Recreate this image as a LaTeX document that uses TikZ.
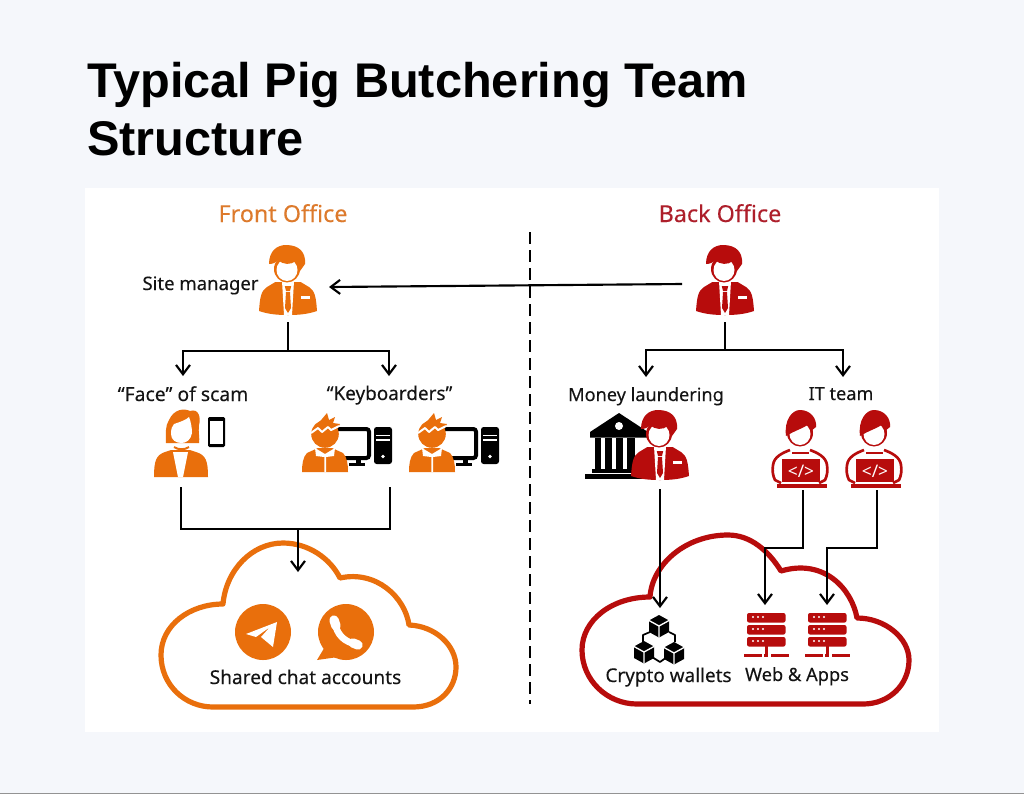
\documentclass[tikz,border=0pt]{standalone}
\usepackage{fontspec}
\setmainfont{Noto Sans}
\newfontfamily\titlefont{Liberation Sans}[BoldFont={Liberation Sans Bold}]
\usetikzlibrary{arrows.meta}
\definecolor{pagebg}{HTML}{F5F7FB}
\definecolor{org}{HTML}{E96F0C}
\definecolor{rd}{HTML}{B70C0C}
\definecolor{orgtxt}{HTML}{DD7A2C}
\definecolor{rdtxt}{HTML}{AE1F2B}
\definecolor{ink}{HTML}{141414}
\newcommand{\lblfont}[1]{\fontsize{#1pt}{18pt}\selectfont\addfontfeature{FakeBold=0.15}}
\tikzset{
  titletext/.style={anchor=base west,inner sep=0pt,font=\titlefont\fontsize{36.5pt}{40pt}\selectfont\bfseries,text=black},
  headtext/.style={anchor=base,inner sep=0pt,font=\lblfont{17.5}},
  labeltext/.style={anchor=base,inner sep=0pt,text=ink,font=\lblfont{#1}},
  labeltext/.default=13.6,
  conn/.style={draw=black,line width=1.6pt},
  arrowconn/.style={conn,-{Straight Barb[length=7pt,width=10.5pt,line width=1.6pt]}},
  cloudline/.style={line width=3.9pt,fill=none,line join=round},
}
% manager icon, origin near neck
\newcommand{\mgricon}[3]{\begin{scope}[shift={(#1,#2)}]
  \fill[#3] (-11,1) -- (-21,7) .. controls (-27,11) and (-28,17) .. (-29,31)
     .. controls (-20,34) and (-12,35) .. (0,35) .. controls (12,35) and (20,34) .. (29,31)
     .. controls (28,17) and (27,11) .. (21,7) -- (11,1) -- cycle;
  \fill[white] (-6,1) -- (6,1) -- (4,35) -- (-4,35) -- cycle;
  \fill[white] (-14,-2) rectangle (14,2);
  \fill[#3] (-3.2,6) -- (3.2,6) -- (2,11) -- (-2,11) -- cycle;
  \fill[#3] (-2,12) -- (2,12) -- (3,28) -- (0,33) -- (-3,28) -- cycle;
  \fill[white] (13,16) rectangle (22,18.8);
  \fill[#3] (-1,-11) ellipse [x radius=13,y radius=13.5];
  \fill[white] (-1,-10) ellipse [x radius=10.5,y radius=11];
  \fill[#3] (-19,-16) .. controls (-19,-29) and (-11,-35) .. (-2,-35)
     .. controls (11,-35) and (18,-28) .. (17,-16) -- (12,-9)
     .. controls (11,-13) and (10,-17) .. (8,-19) .. controls (3,-15) and (-5,-15) .. (-10,-20)
     .. controls (-12,-17) and (-16,-16) .. (-19,-16) -- cycle;
\end{scope}}
% woman
\newcommand{\womanicon}[3]{\begin{scope}[shift={(#1,#2)}]
  \fill[#3] (-6,19) -- (-15,22) .. controls (-24,25) and (-26,31) .. (-26,47) -- (28,47)
     .. controls (28,31) and (26,25) .. (16,22) -- (7,19) -- cycle;
  \fill[white] (-7,22) -- (8,22) -- (3,47) -- (-2,47) -- cycle;
  \fill[white] (-9,17) rectangle (11,20);
  \fill[#3] (-11,-10) .. controls (-6,-21) and (4,-22) .. (10,-19) .. controls (19,-22) and (21,-12) .. (19,-5)
     .. controls (18,2) and (20,8) .. (19,13) -- (-14,13) .. controls (-14,3) and (-15,-4) .. (-11,-10) -- cycle;
  \fill[white] (-9,4) .. controls (-9,-1) and (-8,-4) .. (-6,-6) .. controls (0,-8) and (6,-10) .. (9,-13)
     .. controls (11,-8) and (12,-2) .. (12,3) .. controls (11,10) and (6,13) .. (1.5,13) .. controls (-4,13) and (-9,10) .. (-9,4) -- cycle;
  \draw[#3,line width=1.5pt] (-6,17) .. controls (-2,20) and (5,20) .. (9,17);
\end{scope}}
% keyboarder
\newcommand{\kbicon}[3]{\begin{scope}[shift={(#1,#2)}]
  \draw[black,line width=3pt,rounded corners=2pt] (10,-5) -- (44,-5) -- (44,24) -- (14,24);
  \fill[black] (31,24) rectangle (36,30);
  \fill[black] (24,29) rectangle (40,32);
  \fill[black,rounded corners=2pt] (49,-7) rectangle (67,30);
  \fill[white] (51,0.5) rectangle (65,2);
  \fill[white] (51,5) rectangle (65,6.5);
  \fill[white] (58,22.5) circle (1.9);
  \fill[#3] (-7,14) -- (-18,19) .. controls (-22,23) and (-23,30) .. (-23,38) -- (23,38)
     .. controls (23,30) and (22,23) .. (18,19) -- (7,14) -- cycle;
  \fill[white] (-10,14) -- (0,20) -- (10,14) -- (9,22) -- (1,23) -- (1,38) -- (-0.6,38) -- (-0.6,23) -- (-9,22) -- cycle;
  \fill[#3] (0,0) circle (13.8);
  \fill[#3] (-10,-8) -- (-3,-15) -- (2,-21) -- (4,-14) -- (10,-17) -- (8,-11) -- (15,-10) -- (12,-5) -- cycle;
  \draw[white,line width=1.5pt,line join=round] (-14,-1) -- (-7,-6) -- (-3,-2) -- (3,-7) -- (6,-4) -- (14,-8);
\end{scope}}
% programmer
\newcommand{\progicon}[3]{\begin{scope}[shift={(#1,#2)}]
  \draw[#3,line width=2pt,line join=round] (-10,17) .. controls (-18,20) and (-26,24) .. (-27,32)
     .. controls (-28,38) and (-27,43) .. (-25,47) -- (-19,50);
  \draw[#3,line width=2pt,line join=round] (10,17) .. controls (18,20) and (26,24) .. (27,32)
     .. controls (28,38) and (27,43) .. (25,47) -- (19,50);
  \draw[#3,line width=1.8pt] (-8,20) -- (9,20);
  \fill[#3] (-18,26) rectangle (20,49);
  \fill[#3] (-23,51) rectangle (27,54.5);
  \node[inner sep=0pt,text=white,font=\fontsize{13pt}{13pt}\selectfont\bfseries] at (1,38) {</>};
  \fill[#3] (0,0) ellipse [x radius=13,y radius=13.5];
  \fill[white] (0,1) ellipse [x radius=10.5,y radius=11];
  \fill[#3] (-14,3) .. controls (-16,-13) and (-8,-23) .. (0,-23) .. controls (10,-23) and (17,-15) .. (16,-6)
     -- (11,-2) .. controls (10,-4) and (10,-6) .. (9,-9) .. controls (4,-5) and (-4,-3) .. (-14,3) -- cycle;
\end{scope}}
% bank
\newcommand{\bankicon}[2]{\begin{scope}[shift={(#1,#2)}]
  \fill[black] (0,0) -- (29,19) -- (29,24.5) -- (-29,24.5) -- (-29,19) -- cycle;
  \fill[white] (0,13) circle (4);
  \foreach \cx/\w in {-21/6.5,-10.5/7,0.5/7,12/8}
    \fill[black] (\cx-\w/2,25) rectangle (\cx+\w/2,56);
  \fill[black] (-27,56) rectangle (30,60);
  \fill[black] (-34,60.5) rectangle (30,66);
\end{scope}}
% server
\newcommand{\servericon}[3]{\begin{scope}[shift={(#1,#2)}]
  \foreach \yy in {0,12,24}{
    \fill[#3,rounded corners=1.5pt] (0,\yy) rectangle (38.5,\yy+9.5);
    \foreach \xx in {6,11,16} \fill[white] (\xx,\yy+4) circle (1.2);
  }
  \fill[#3] (18,33) rectangle (20.5,41);
  \fill[#3] (-3,41) rectangle (14.5,44);
  \fill[#3] (17.3,41) rectangle (21.2,44);
  \fill[#3] (24,41) rectangle (41.5,44);
\end{scope}}
% cube
\newcommand{\cubeicon}[2]{\begin{scope}[shift={(#1,#2)}]
  \fill[black] (0,-11) -- (10,-5.5) -- (10,6) -- (0,11.5) -- (-10,6) -- (-10,-5.5) -- cycle;
  \draw[white,line width=1pt] (-10,-5.5) -- (0,0) -- (10,-5.5) (0,0) -- (0,11.5);
\end{scope}}
\begin{document}
\begin{tikzpicture}[x=0.75pt,y=-0.75pt]
\useasboundingbox (0,0) rectangle (1024,794);
\fill[pagebg] (0,0) rectangle (1024,794);
\fill[gray!85] (0,793) rectangle (1024,794);
\fill[white] (85,188) rectangle (939,732);

\node[titletext] (title1) at (87,97) {Typical Pig Butchering Team};
\node[titletext] (title2) at (87,155) {Structure};

\node[headtext,text=orgtxt] (front) at (283,222) {Front Office};
\node[headtext,text=rdtxt] (back) at (720,222) {Back Office};
\node[labeltext=13.9] (site) at (200.5,290) {Site manager};
\node[labeltext=14.5] (face) at (183,401) {“Face” of scam};
\node[labeltext=14.2] (keys) at (389.5,400) {“Keyboarders”};
\node[labeltext=13.6] (money) at (646,401) {Money laundering};
\node[labeltext=13.6] (itteam) at (841,400) {IT team};

% clouds
\draw[org,cloudline] (213,707) -- (413,707) .. controls (440,707) and (456,688) .. (456,667)
  .. controls (456,645) and (435,626) .. (409,625) .. controls (405,597) and (376,570) .. (340,578)
  .. controls (330,558) and (308,543) .. (283,543) .. controls (252,543) and (226,570) .. (223,604)
  .. controls (190,604) and (161,625) .. (161,655) .. controls (161,685) and (185,707) .. (213,707) -- cycle;
\draw[rd,cloudline] (637,704) -- (863,704) .. controls (890,704) and (909,684) .. (909,660)
  .. controls (909,638) and (885,618) .. (857,618) .. controls (852,590) and (825,558) .. (781,571)
  .. controls (768,550) and (750,535) .. (728,535) .. controls (685,535) and (652,565) .. (650,597)
  .. controls (612,597) and (582,620) .. (582,650) .. controls (582,680) and (607,704) .. (637,704) -- cycle;

% icons
\mgricon{288}{280}{org}
\mgricon{725}{280}{rd}
\bankicon{619}{413}
\mgricon{660}{445}{rd}
\womanicon{180}{430}{org}
\fill[black,rounded corners=1pt] (208,417) rectangle (225,447);
\fill[white] (210,421) rectangle (223,444);
\kbicon{325}{434}{org}
\kbicon{432}{434}{org}
\progicon{800}{433}{rd}
\progicon{874}{433}{rd}

% chat icons
\fill[org] (263,632) circle (28);
\fill[white] (246,634) -- (277,622) -- (273,647) -- (261,637) -- (270,627) -- (256,637) -- cycle;
\fill[org] (346,632) circle (28);
\fill[org] (326,645) -- (338,657) -- (317,660) -- cycle;
\draw[white,line width=5pt,line cap=round] (335,622) .. controls (336,634) and (345,643) .. (357,644);
\draw[white,line width=7pt,line cap=round] (334,620) -- (336,626) (353,643) -- (358,645);

\node[labeltext=14.3] (shared) at (305.5,684) {Shared chat accounts};
\node[labeltext=14.2] (crypto) at (668.5,682) {Crypto wallets};
\node[labeltext=13.7] (web) at (797,681) {Web \& Apps};

% crypto
\draw[black,line width=1.3pt,line join=round] (650,632) -- (643,635) -- (643,642);
\draw[black,line width=1.3pt,line join=round] (669,632) -- (675,635) -- (675,642);
\draw[black,line width=1.3pt,line join=round] (652,657) -- (660,662) -- (667,657);
\cubeicon{659}{626}
\cubeicon{644}{652}
\cubeicon{674}{653}

% servers
\servericon{747}{613}{rd}
\servericon{808}{613}{rd}

% named connector coordinates
\coordinate (bmleft) at (682,284);
\coordinate (smright) at (329,287);
\coordinate (smbot) at (288,322);
\coordinate (smjoin) at (288,351);
\coordinate (facetop) at (183,376);
\coordinate (keystop) at (389,376);
\coordinate (bmbot) at (725,322);
\coordinate (bmjoin) at (725,350);
\coordinate (moneytop) at (646,377);
\coordinate (ittop) at (843,377);
\coordinate (womanbot) at (181,487);
\coordinate (kbbot) at (390,487);
\coordinate (frontjoin) at (298,529);
\coordinate (cloudin) at (298,572);
\coordinate (mlbot) at (660,489);
\coordinate (cryptotop) at (660,608);
\coordinate (it1bot) at (803,490);
\coordinate (web1top) at (765,605);
\coordinate (it2bot) at (877,490);
\coordinate (web2top) at (827,605);
\coordinate (dashtop) at (530,232);
\coordinate (dashbot) at (530,704);

% connectors
\draw[arrowconn] (bmleft) -- (smright);
\draw[conn] (smbot) -- (smjoin);
\draw[arrowconn] (smjoin) -| (facetop);
\draw[arrowconn] (smjoin) -| (keystop);
\draw[conn] (bmbot) -- (bmjoin);
\draw[arrowconn] (bmjoin) -| (moneytop);
\draw[arrowconn] (bmjoin) -| (ittop);
\draw[conn,line join=miter] (womanbot) |- (frontjoin) -| (kbbot);
\draw[arrowconn] (frontjoin) -- (cloudin);
\draw[arrowconn] (mlbot) -- (cryptotop);
\draw[arrowconn] (it1bot) -- (it1bot |- 0,548) -- (web1top |- 0,548) -- (web1top);
\draw[arrowconn] (it2bot) -- (it2bot |- 0,548) -- (web2top |- 0,548) -- (web2top);
\draw[black,line width=1.5pt,dash pattern=on 9pt off 4.5pt] (dashtop) -- (dashbot);
\end{tikzpicture}
\end{document}
